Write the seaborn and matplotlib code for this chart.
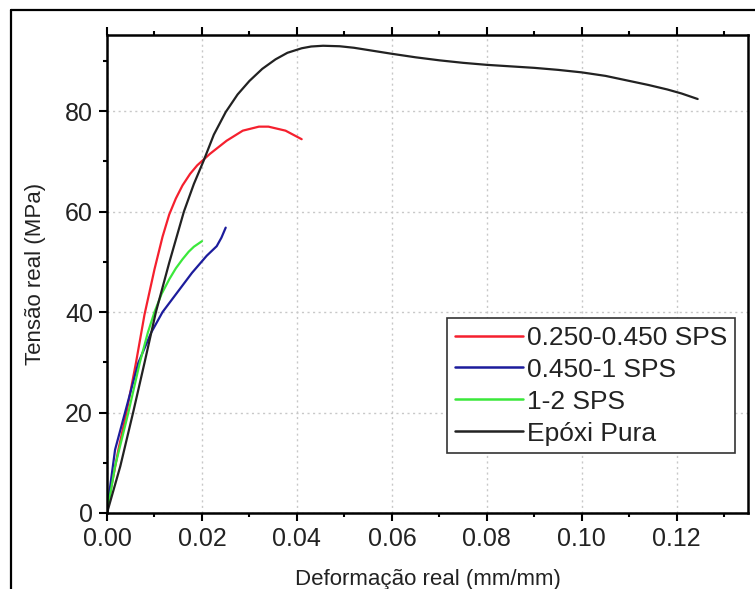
import matplotlib
matplotlib.use("Agg")
import matplotlib.pyplot as plt
from matplotlib.lines import Line2D
from matplotlib.ticker import MultipleLocator
import seaborn as sns
import pandas as pd

# ---- data ----
series_names = ["0.250-0.450 SPS", "0.450-1 SPS", "1-2 SPS", "Epóxi Pura"]

eps_red = [0, 0.0004, 0.0024, 0.0041, 0.0061, 0.0079, 0.0100, 0.0117, 0.0131, 0.0145,
           0.0159, 0.0175, 0.019, 0.0217, 0.0252, 0.0286, 0.032, 0.034, 0.0376, 0.041]
sig_red = [0, 2.7, 12.6, 20, 29.9, 39.5, 48.5, 55.0, 59.4, 62.6,
           65.2, 67.5, 69.2, 71.5, 74.1, 76.1, 76.9, 76.9, 76.1, 74.4]

eps_blue = [0, 0.0003, 0.0017, 0.0038, 0.0066, 0.0093, 0.0117, 0.0148, 0.0179, 0.021,
            0.0231, 0.0241, 0.0250]
sig_blue = [0, 2.7, 12.6, 20, 29.9, 35.9, 40, 43.9, 47.8, 51.2,
            53.1, 54.8, 56.8]

eps_green = [0, 0.0017, 0.0045, 0.0069, 0.0086, 0.0100, 0.0115, 0.0131, 0.0145, 0.0159,
             0.0172, 0.0183, 0.0200]
sig_green = [0, 9.3, 20, 29.9, 35.9, 40, 43.6, 46.5, 48.7, 50.5,
             52.0, 53.0, 54.1]

eps_black = [0, 0.0028, 0.0055, 0.0079, 0.0103, 0.0131, 0.0162, 0.0183, 0.0203, 0.0225,
             0.025, 0.0275, 0.030, 0.0327, 0.0355, 0.038, 0.041, 0.043, 0.0455,
             0.049, 0.052, 0.056, 0.06, 0.065, 0.07, 0.075, 0.08, 0.085, 0.09,
             0.095, 0.10, 0.105, 0.11, 0.114, 0.118, 0.121, 0.1244]
sig_black = [0, 9.3, 20, 29.9, 40, 49.8, 60, 65.5, 70.0, 75.3,
             79.8, 83.3, 86.0, 88.4, 90.3, 91.6, 92.5, 92.85, 93.0,
             92.9, 92.6, 92.0, 91.4, 90.7, 90.1, 89.6, 89.2, 88.9, 88.6,
             88.2, 87.7, 87.0, 86.0, 85.2, 84.3, 83.5, 82.4]

x_ticks = [0.00, 0.02, 0.04, 0.06, 0.08, 0.10, 0.12]
y_ticks = [0, 20, 40, 60, 80]

colors = {"0.250-0.450 SPS": "#f5202e", "0.450-1 SPS": "#1c1c9c",
          "1-2 SPS": "#3be83b", "Epóxi Pura": "#222222"}

frames = []
for name, xs, ys in zip(series_names,
                        [eps_red, eps_blue, eps_green, eps_black],
                        [sig_red, sig_blue, sig_green, sig_black]):
    frames.append(pd.DataFrame({"eps": xs, "sig": ys, "serie": name}))
df = pd.concat(frames, ignore_index=True)

sns.set_theme(style="white")
plt.rcParams["font.family"] = ["Liberation Sans", "DejaVu Sans"]

W, H = 755, 589
fig = plt.figure(figsize=(W / 100, H / 100), dpi=100)
ax = fig.add_axes([107 / W, 1 - 513 / H, (748 - 107) / W, (513 - 34.7) / H])

sns.lineplot(data=df, x="eps", y="sig", hue="serie", hue_order=series_names,
             palette=colors, estimator=None, sort=False, units="serie",
             linewidth=1.6, ax=ax, legend=False)

ax.set_xlim(0, 0.135)
ax.set_ylim(0, 95.2)
ax.set_xticks(x_ticks)
ax.set_xticklabels([f"{v:.2f}" for v in x_ticks])
ax.set_yticks(y_ticks)
ax.xaxis.set_minor_locator(MultipleLocator(0.01))
ax.yaxis.set_minor_locator(MultipleLocator(10))

ax.grid(True, which="major", linestyle=(0, (1.5, 2.5)), color="#c8c8c8", linewidth=1.0)

for s in ax.spines.values():
    s.set_visible(True)
    s.set_color("black")
    s.set_linewidth(1.8)

ax.tick_params(axis="both", which="major", direction="out", length=6, width=1.5,
               labelsize=18, pad=4, color="black", labelcolor="#222222",
               bottom=True, left=True, top=True, right=False)
ax.tick_params(axis="both", which="minor", direction="out", length=3, width=1.5,
               bottom=True, left=True, top=True, right=False, color="black")
ax.tick_params(axis="x", which="both", labeltop=False)

ax.set_xlabel("Deformação real (mm/mm)", fontsize=16, color="#222222", labelpad=13)
ax.set_ylabel("Tensão real (MPa)", fontsize=16, color="#222222", labelpad=14)

handles = [Line2D([0], [0], color=colors[n], lw=1.8) for n in series_names]
leg = ax.legend(handles, series_names, loc="upper left", bbox_to_anchor=(0.530, 0.408),
                borderaxespad=0, fontsize=19, frameon=True, fancybox=False,
                framealpha=1, edgecolor="#333333", handlelength=2.6,
                handletextpad=0.15, labelspacing=0.3, borderpad=0.3)
leg.get_frame().set_linewidth(1.2)
for t in leg.get_texts():
    t.set_color("#222222")

# outer figure frame (left and top edges)
fig.add_artist(Line2D([11 / W, 11 / W], [0, 1 - 10 / H], transform=fig.transFigure,
                      color="black", lw=1.6))
fig.add_artist(Line2D([11 / W, 1], [1 - 10 / H, 1 - 10 / H], transform=fig.transFigure,
                      color="black", lw=1.6))

fig.savefig("out.png", dpi=100)
